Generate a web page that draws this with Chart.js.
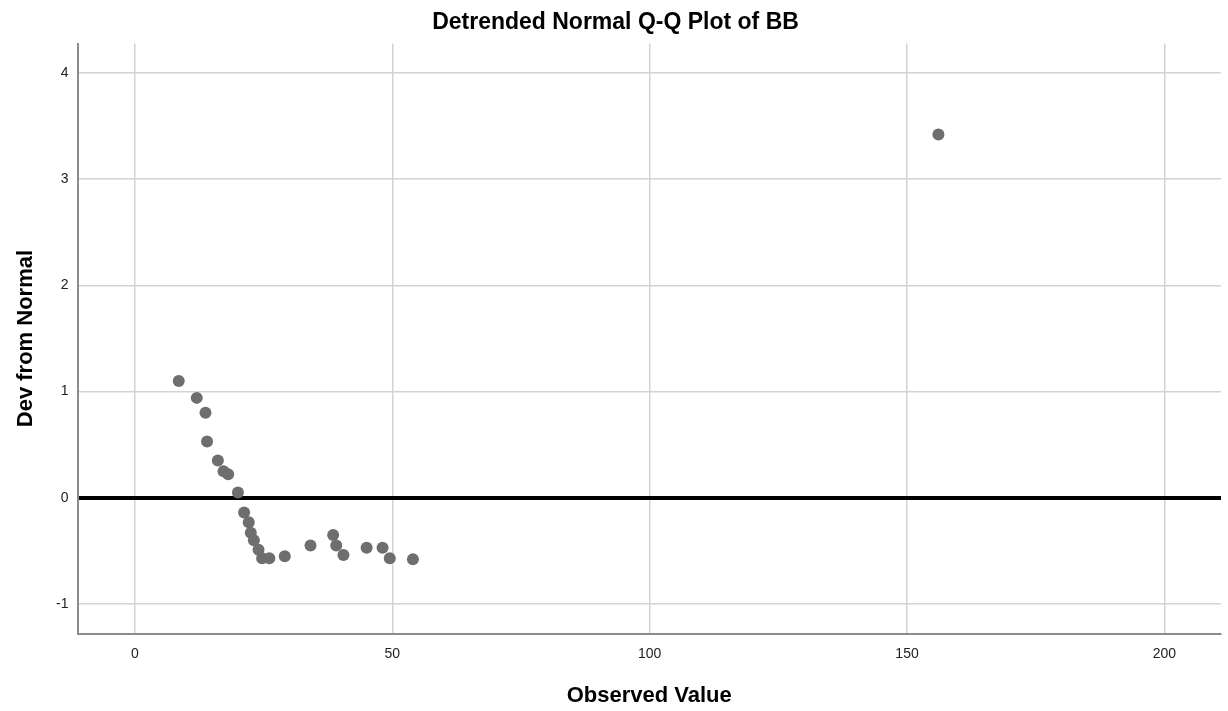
<!DOCTYPE html>
<html>
<head>
<meta charset="utf-8">
<title>Detrended Normal Q-Q Plot of BB</title>
<script src="https://cdn.jsdelivr.net/npm/chart.js@4/dist/chart.umd.min.js"></script>
<style>
  html, body { margin: 0; padding: 0; background: #ffffff; }
  #wrap { width: 1228px; height: 711px; }
</style>
</head>
<body>
<div id="wrap"><canvas id="qq" width="1228" height="711"></canvas></div>
<script>
// Observed values of BB and their deviation from the normal line
const observedValues = [8.5, 12.0, 13.7, 14.0, 16.1, 17.2, 18.1, 20.0, 21.2, 22.1, 22.5, 23.1,
                        24.0, 24.7, 26.1, 29.1, 34.1, 38.5, 39.1, 40.5, 45.0, 48.1, 49.5, 54.0, 156.1];
const devFromNormal  = [1.10, 0.94, 0.80, 0.53, 0.35, 0.25, 0.22, 0.05, -0.14, -0.23, -0.33, -0.40,
                        -0.49, -0.57, -0.57, -0.55, -0.45, -0.35, -0.45, -0.54, -0.47, -0.47, -0.57, -0.58, 3.42];

// Axis ticks and ranges
const xTickValues = [0, 50, 100, 150, 200];
const yTickValues = [-1, 0, 1, 2, 3, 4];
const xRange = [-11.17, 211.0];
const yRange = [-1.278, 4.275];

const points = observedValues.map((v, i) => ({ x: v, y: devFromNormal[i] }));

const FONT = "'Liberation Sans', Arial, sans-serif";
const GRID = '#d3d3d3';
const AXIS = '#8c8c8c';

new Chart(document.getElementById('qq'), {
  type: 'scatter',
  data: {
    datasets: [{
      label: 'BB',
      data: points,
      backgroundColor: '#6e6e6e',
      borderColor: '#6e6e6e',
      borderWidth: 0,
      pointRadius: 6,
      pointHoverRadius: 6
    }]
  },
  options: {
    responsive: false,
    animation: false,
    events: [],
    layout: { padding: { left: 10, right: 7, top: 0, bottom: 0 } },
    plugins: {
      legend: { display: false },
      tooltip: { enabled: false },
      title: {
        display: true,
        text: 'Detrended Normal Q-Q Plot of BB',
        color: '#000000',
        font: { family: FONT, size: 23, weight: 'bold', lineHeight: 1.2 },
        padding: { top: 9, bottom: 7 }
      }
    },
    scales: {
      x: {
        type: 'linear',
        min: xRange[0],
        max: xRange[1],
        afterBuildTicks: s => { s.ticks = xTickValues.map(v => ({ value: v })); },
        afterFit: s => { s.height = 77.5; },
        ticks: {
          includeBounds: false,
          color: '#222222',
          padding: 12,
          maxRotation: 0,
          font: { family: FONT, size: 14 }
        },
        grid: { color: GRID, lineWidth: 1.5, drawTicks: false },
        border: { display: true, color: AXIS, width: 2 },
        title: {
          display: true,
          text: 'Observed Value',
          color: '#000000',
          font: { family: FONT, size: 22, weight: 'bold', lineHeight: 1.2 },
          padding: { top: 0, bottom: 2 }
        }
      },
      y: {
        type: 'linear',
        min: yRange[0],
        max: yRange[1],
        afterBuildTicks: s => { s.ticks = yTickValues.map(v => ({ value: v })); },
        afterFit: s => { s.width = 67.5; },
        ticks: {
          includeBounds: false,
          color: '#222222',
          padding: 9,
          font: { family: FONT, size: 14 }
        },
        grid: {
          // the zero reference line is drawn as a heavy black grid line
          color: ctx => (ctx.tick && ctx.tick.value === 0 ? '#000000' : GRID),
          lineWidth: ctx => (ctx.tick && ctx.tick.value === 0 ? 4 : 1.5),
          drawTicks: false
        },
        border: { display: true, color: AXIS, width: 2 },
        title: {
          display: true,
          text: 'Dev from Normal',
          color: '#000000',
          font: { family: FONT, size: 22, weight: 'bold', lineHeight: 1.2 },
          padding: { top: 3, bottom: 0 }
        }
      }
    }
  }
});
</script>
</body>
</html>
